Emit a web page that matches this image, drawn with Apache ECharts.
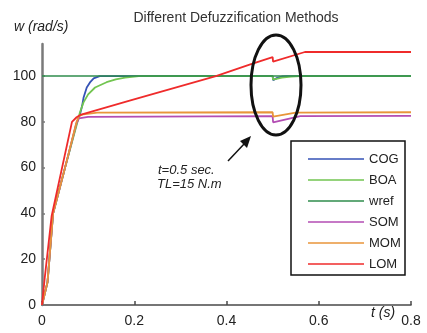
<!DOCTYPE html>
<html>
<head>
<meta charset="utf-8">
<script src="https://cdn.jsdelivr.net/npm/echarts@6/dist/echarts.min.js"></script>
<style>
  html, body { margin: 0; padding: 0; background: #fff; }
  #chart { width: 427px; height: 333px; }
</style>
</head>
<body>
<div id="chart"></div>
<script>
// Speed response [t (s), w (rad/s)] for each defuzzification method
const seriesNames = ['COG', 'BOA', 'wref', 'SOM', 'MOM', 'LOM'];
const xTicks = [0, 0.2, 0.4, 0.6, 0.8];
const yTicks = [0, 20, 40, 60, 80, 100];

const cog = [[0,0],[0.012,10],[0.024,40],[0.05,60],[0.076,80],[0.082,83],[0.087,87],[0.09,90.5],[0.097,95],[0.105,97.5],[0.112,99],[0.125,100],[0.5,100],[0.501,98.2],[0.51,99.2],[0.52,99.8],[0.53,100],[0.8,100]];
const boa = [[0,0],[0.012,10],[0.024,40],[0.05,60],[0.077,80],[0.082,84],[0.09,88.5],[0.1,92],[0.115,95],[0.14,97.3],[0.16,98.5],[0.18,99.3],[0.21,100],[0.5,100],[0.501,98.4],[0.52,99.3],[0.54,99.8],[0.56,100],[0.8,100]];
const wref = [[0,100],[0.8,100]];
const som = [[0,0],[0.012,10],[0.024,40],[0.05,60],[0.074,79],[0.08,81.5],[0.1,82.2],[0.5,82.5],[0.501,79.8],[0.56,82.5],[0.8,82.6]];
const mom = [[0,0],[0.012,10],[0.024,40],[0.05,60],[0.075,80],[0.08,82.5],[0.09,83.3],[0.12,84],[0.5,84.2],[0.501,82.3],[0.55,84],[0.8,84.2]];
const lom = [[0,0],[0.006,12],[0.021,39],[0.065,80],[0.075,82],[0.083,83],[0.19,89.3],[0.377,100],[0.45,105],[0.5,108.3],[0.501,106.3],[0.57,110.5],[0.8,110.5]];

const lineData = [cog, boa, wref, som, mom, lom];
const colors = ['#3552b6', '#72c550', '#2f8c4c', '#b34db3', '#e8953a', '#ef2b2b'];

const chart = echarts.init(document.getElementById('chart'), null, { renderer: 'canvas' });

const axisGray = '#7a7a7a';
const font = 'Liberation Sans, Arial, sans-serif';

const option = {
  backgroundColor: '#ffffff',
  animation: false,
  title: {
    text: 'Different Defuzzification Methods',
    left: 231, top: 6, textAlign: 'center',
    textStyle: { fontFamily: font, fontSize: 14, fontWeight: 'normal', color: '#333' }
  },
  grid: { left: 42, right: 16, top: 44, bottom: 28 },
  xAxis: {
    type: 'value', min: 0, max: 0.8, interval: 0.2,
    axisLine: { show: true, onZero: false, lineStyle: { color: '#4a4a4a', width: 1.6 } },
    axisTick: { show: true, inside: true, length: 4, lineStyle: { color: '#4a4a4a', width: 1.5 } },
    axisLabel: { fontFamily: font, fontSize: 14, color: '#222', margin: 9,
      formatter: v => (v === 0 ? '0' : String(+v.toFixed(1))) },
    splitLine: { show: false }
  },
  yAxis: {
    type: 'value', min: 0, max: 114,
    axisLine: { show: true, onZero: false, lineStyle: { color: axisGray, width: 2.5 } },
    axisTick: { show: true, inside: true, length: 3, customValues: yTicks, lineStyle: { color: axisGray, width: 1.5 } },
    axisLabel: { fontFamily: font, fontSize: 14, color: '#222', margin: 6, customValues: yTicks },
    splitLine: { show: false }
  },
  legend: {
    orient: 'vertical', left: 303, top: 147,
    icon: 'rect', itemWidth: 56, itemHeight: 1.5, itemGap: 7,
    textStyle: { fontFamily: font, fontSize: 13, color: '#222', lineHeight: 14 },
    itemStyle: { borderWidth: 0 },
    data: seriesNames
  },
  series: seriesNames.map((name, i) => ({
    name, type: 'line', data: lineData[i], showSymbol: false, symbol: 'none',
    lineStyle: { color: colors[i], width: i === 2 ? 1.6 : 1.8 },
    itemStyle: { color: colors[i] },
    z: 2 + i
  })),
  graphic: [
    { type: 'rect', shape: { x: 291, y: 141, width: 114, height: 134 },
      style: { fill: 'none', stroke: '#111', lineWidth: 1.5 }, z: 10 },
    { type: 'text', left: 14, top: 20,
      style: { text: 'w (rad/s)', font: 'italic 14px ' + font, fill: '#222' } },
    { type: 'text', left: 371, top: 306,
      style: { text: 't (s)', font: 'italic 14px ' + font, fill: '#222' } },
    { type: 'text', left: 158, top: 164,
      style: { text: 't=0.5 sec.', font: 'italic 13px ' + font, fill: '#222' } },
    { type: 'text', left: 157, top: 178,
      style: { text: 'TL=15 N.m', font: 'italic 13px ' + font, fill: '#222' } },
    { type: 'line', shape: { x1: 228, y1: 161, x2: 245, y2: 143 },
      style: { stroke: '#111', lineWidth: 1.5 }, z: 10 },
    { type: 'polygon', shape: { points: [[251, 136], [240, 141], [247, 148]] },
      style: { fill: '#111' }, z: 10 },
    { type: 'ellipse', shape: { cx: 276, cy: 85, rx: 25, ry: 50 },
      style: { fill: 'none', stroke: '#111', lineWidth: 3 }, z: 10 }
  ]
};

chart.setOption(option);
</script>
</body>
</html>
